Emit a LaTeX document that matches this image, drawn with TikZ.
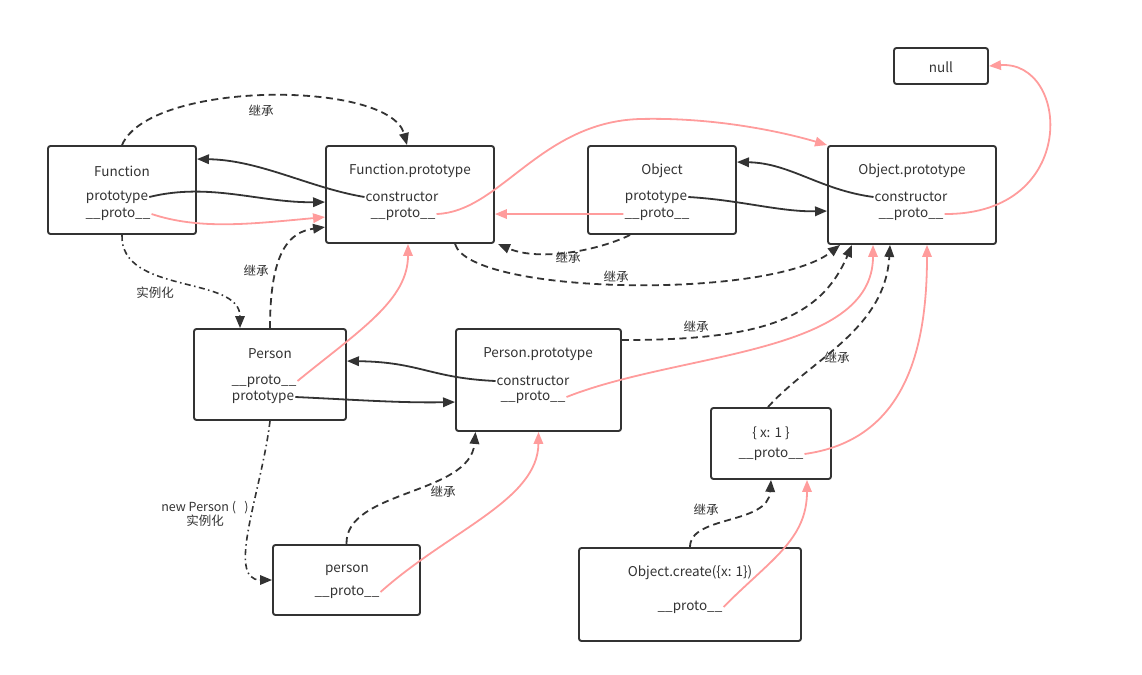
\documentclass[tikz,border=0pt]{standalone}
\usepackage{fontspec}
\setmainfont{Noto Sans CJK SC}
\usepackage{tikz}
\usetikzlibrary{arrows.meta,positioning}
\definecolor{inkdark}{HTML}{333333}
\definecolor{inkpink}{HTML}{FF9C9C}

\begin{document}
\begin{tikzpicture}[x=1pt, y=-1pt, >={Triangle[length=12pt,width=9.5pt]}, font=\fontsize{13.5}{15}\selectfont]
    \tikzstyle{box} = [draw=inkdark, rectangle, rounded corners=2.5pt, line width=1.9pt]
    \tikzstyle{txt} = [inner sep=1pt, text=inkdark]
    \tikzstyle{tag} = [inner sep=1pt, text=inkdark, font=\fontsize{12.5}{14.5}\selectfont]
    \tikzstyle{link} = [->, draw=inkdark, line width=1.8pt]
    \tikzstyle{proto} = [->, draw=inkpink, line width=1.8pt]
    \tikzstyle{inherit} = [->, draw=inkdark, line width=1.8pt, dash pattern=on 7pt off 4.5pt]
    \tikzstyle{inst} = [->, draw=inkdark, line width=1.6pt, dash pattern=on 6pt off 3.5pt on 1.5pt off 3.5pt]

    \useasboundingbox (0,0) rectangle (1142,674);

    % boxes
    \node [box, minimum width=148pt, minimum height=88pt] (fn) at (122,190) {};
    \node [box, minimum width=168pt, minimum height=97pt] (fp) at (410,194.5) {};
    \node [box, minimum width=148pt, minimum height=88pt] (ob) at (662,190) {};
    \node [box, minimum width=168pt, minimum height=98pt] (op) at (912,195) {};
    \node [box, minimum width=94pt, minimum height=36pt] (nl) at (941,66) {};
    \node [box, minimum width=152pt, minimum height=91pt] (ps) at (270,374.5) {};
    \node [box, minimum width=165pt, minimum height=102pt] (pp) at (538.5,380) {};
    \node [box, minimum width=120pt, minimum height=71pt] (x1) at (771,443.5) {};
    \node [box, minimum width=147pt, minimum height=70pt] (pr) at (346.5,580) {};
    \node [box, minimum width=222pt, minimum height=93pt] (oc) at (690,594.5) {};

    % texts in the boxes
    \node [txt] (fnT) at (122,171) {Function};
    \node [txt] (fnP) at (117,197) {prototype};
    \node [txt] (fnPr) at (118,214) {\_\_proto\_\_};
    \node [txt] (fpT) at (410,171) {Function.prototype};
    \node [txt] (fpC) at (402,197) {constructor};
    \node [txt] (fpPr) at (403,214) {\_\_proto\_\_};
    \node [txt] (obT) at (662,171) {Object};
    \node [txt] (obP) at (656,197) {prototype};
    \node [txt] (obPr) at (657,214) {\_\_proto\_\_};
    \node [txt] (opT) at (912,171) {Object.prototype};
    \node [txt] (opC) at (911,197) {constructor};
    \node [txt] (opPr) at (911,214) {\_\_proto\_\_};
    \node [txt] (nlT) at (941,67) {null};
    \node [txt] (psT) at (270,354) {Person};
    \node [txt] (psPr) at (264,381) {\_\_proto\_\_};
    \node [txt] (psP) at (263,397) {prototype};
    \node [txt] (ppT) at (538,354) {Person.prototype};
    \node [txt] (ppC) at (533,381) {constructor};
    \node [txt] (ppPr) at (533,397) {\_\_proto\_\_};
    \node [txt] (x1T) at (771,433) {\{ x: 1 \}};
    \node [txt] (x1Pr) at (771,454) {\_\_proto\_\_};
    \node [txt] (prT) at (347,570) {person};
    \node [txt] (prPr) at (347,592) {\_\_proto\_\_};
    \node [txt] (ocT) at (690,573) {Object.create(\{x: 1\})};
    \node [txt] (ocPr) at (690,607) {\_\_proto\_\_};

    % edge labels
    \node [tag] (l1) at (261,111) {继承};
    \node [tag] (l2) at (256,271) {继承};
    \node [tag] (l3) at (568,258) {继承};
    \node [tag] (l4) at (616,277) {继承};
    \node [tag] (l5) at (696,327) {继承};
    \node [tag] (l6) at (837,358) {继承};
    \node [tag] (l7) at (443,492) {继承};
    \node [tag] (l8) at (706,510) {继承};
    \node [tag] (l9) at (155,293) {实例化};
    \node [tag, align=center] (l10) at (205,514) {new Person (\ \ \ )\\实例化};

    % constructor / prototype links
    \draw [link] (fpC.west) .. controls (310,188) and (260,160) .. ([yshift=-14pt]fn.north east);
    \draw [link] (fnP.east) .. controls (210,182) and (260,203) .. ([yshift=-57pt]fp.north west);
    \draw [link] (opC.west) .. controls (820,190) and (790,163) .. ([yshift=-17pt]ob.north east);
    \draw [link] (obP.east) .. controls (740,200) and (780,212) .. ([yshift=-66pt]op.north west);
    \draw [link] (ppC.west) .. controls (430,378) and (420,362) .. ([yshift=-33pt]ps.north east);
    \draw [link] (psP.east) .. controls (360,400) and (400,403) .. ([yshift=-74pt]pp.north west);

    % __proto__ links
    \draw [proto] (fnPr.east) .. controls (200,230) and (250,224) .. ([yshift=-72pt]fp.north west);
    \draw [proto] (fpPr.east) .. controls (500,212) and (540,122) .. (640,119) .. controls (720,117) and (790,134) .. (op.north west);
    \draw [proto] (obPr.west) -- ([yshift=-69pt]fp.north east);
    \draw [proto] (opPr.east) .. controls (1080,215) and (1070,60) .. (nl.east);
    \draw [proto] (psPr.east) .. controls (360,330) and (408,300) .. ([xshift=-2pt]fp.south);
    \draw [proto] (ppPr.east) .. controls (680,352) and (873,355) .. ([xshift=-39pt]op.south);
    \draw [proto] (x1Pr.east) .. controls (905,440) and (927,350) .. ([xshift=15pt]op.south);
    \draw [proto] (prPr.east) .. controls (450,530) and (538,500) .. (pp.south);
    \draw [proto] (ocPr.east) .. controls (770,560) and (807,540) .. ([xshift=36pt]x1.south);

    % inheritance links
    \draw [inherit] (fn.north) .. controls (150,80) and (390,80) .. ([xshift=-3pt]fp.north);
    \draw [inherit] ([xshift=-32pt]ob.south) .. controls (600,250) and (540,262) .. ([xshift=3pt]fp.south east);
    \draw [inherit] ([xshift=45pt]fp.south) .. controls (470,295) and (770,300) .. ([xshift=-72pt]op.south);
    \draw [inherit] (ps.north) .. controls (270,250) and (290,232) .. ([yshift=-82pt]fp.north west);
    \draw [inherit] ([yshift=-12pt]pp.north east) .. controls (760,340) and (820,320) .. ([xshift=-60pt]op.south);
    \draw [inherit] ([xshift=-3pt]x1.north) .. controls (810,360) and (885,330) .. ([xshift=-22pt]op.south);
    \draw [inherit] (pr.north) .. controls (345,490) and (470,495) .. ([xshift=-63pt]pp.south);
    \draw [inherit] (oc.north) .. controls (690,515) and (768,525) .. (x1.south);

    % instantiation links
    \draw [inst] (fn.south) .. controls (120,295) and (240,275) .. ([xshift=-30pt]ps.north);
    \draw [inst] (ps.south) .. controls (262,490) and (225,580) .. (pr.west);
\end{tikzpicture}
\end{document}
